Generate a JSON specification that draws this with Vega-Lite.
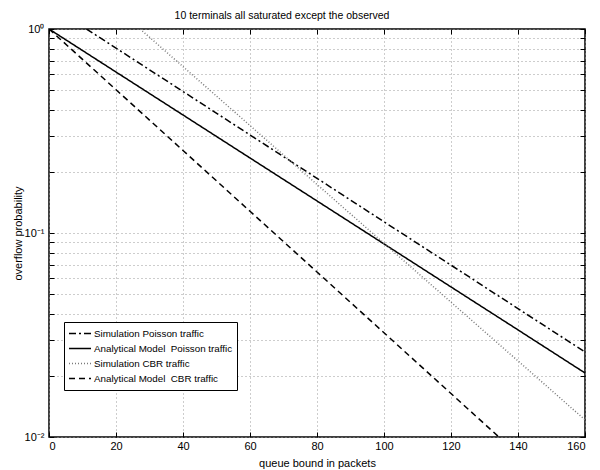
{
  "$schema": "https://vega.github.io/schema/vega-lite/v6.json",
  "width": 536,
  "height": 408,
  "autosize": {"type": "none"},
  "padding": {"left": 49, "top": 29, "right": 15, "bottom": 33},
  "background": "white",
  "title": {"text": "10 terminals all saturated except the observed", "font": "Liberation Sans", "fontSize": 10.5, "fontWeight": "normal", "color": "black", "anchor": "middle", "frame": "group", "dx": -35, "dy": 17, "baseline": "bottom", "offset": 9},
  "data": {"values": [
    {"series": "Simulation Poisson traffic", "x": 11.2, "y": 1.0},
    {"series": "Simulation Poisson traffic", "x": 20, "y": 0.806},
    {"series": "Simulation Poisson traffic", "x": 40, "y": 0.494},
    {"series": "Simulation Poisson traffic", "x": 60, "y": 0.3025},
    {"series": "Simulation Poisson traffic", "x": 80, "y": 0.1854},
    {"series": "Simulation Poisson traffic", "x": 100, "y": 0.1135},
    {"series": "Simulation Poisson traffic", "x": 120, "y": 0.0696},
    {"series": "Simulation Poisson traffic", "x": 140, "y": 0.0426},
    {"series": "Simulation Poisson traffic", "x": 160, "y": 0.0261},
    {"series": "Analytical Model\u00a0 Poisson traffic", "x": 0, "y": 1.0},
    {"series": "Analytical Model\u00a0 Poisson traffic", "x": 20, "y": 0.6154},
    {"series": "Analytical Model\u00a0 Poisson traffic", "x": 40, "y": 0.3789},
    {"series": "Analytical Model\u00a0 Poisson traffic", "x": 60, "y": 0.2332},
    {"series": "Analytical Model\u00a0 Poisson traffic", "x": 80, "y": 0.1436},
    {"series": "Analytical Model\u00a0 Poisson traffic", "x": 100, "y": 0.0884},
    {"series": "Analytical Model\u00a0 Poisson traffic", "x": 120, "y": 0.0544},
    {"series": "Analytical Model\u00a0 Poisson traffic", "x": 140, "y": 0.0335},
    {"series": "Analytical Model\u00a0 Poisson traffic", "x": 160, "y": 0.0206},
    {"series": "Simulation CBR traffic", "x": 27.2, "y": 1.0},
    {"series": "Simulation CBR traffic", "x": 40, "y": 0.654},
    {"series": "Simulation CBR traffic", "x": 60, "y": 0.3363},
    {"series": "Simulation CBR traffic", "x": 80, "y": 0.173},
    {"series": "Simulation CBR traffic", "x": 100, "y": 0.089},
    {"series": "Simulation CBR traffic", "x": 120, "y": 0.0458},
    {"series": "Simulation CBR traffic", "x": 140, "y": 0.0236},
    {"series": "Simulation CBR traffic", "x": 160, "y": 0.01213},
    {"series": "Analytical Model\u00a0 CBR traffic", "x": 0, "y": 1.0},
    {"series": "Analytical Model\u00a0 CBR traffic", "x": 20, "y": 0.504},
    {"series": "Analytical Model\u00a0 CBR traffic", "x": 40, "y": 0.2538},
    {"series": "Analytical Model\u00a0 CBR traffic", "x": 60, "y": 0.1278},
    {"series": "Analytical Model\u00a0 CBR traffic", "x": 80, "y": 0.0644},
    {"series": "Analytical Model\u00a0 CBR traffic", "x": 100, "y": 0.03243},
    {"series": "Analytical Model\u00a0 CBR traffic", "x": 120, "y": 0.01633},
    {"series": "Analytical Model\u00a0 CBR traffic", "x": 134.3, "y": 0.01}
  ]},
  "layer": [
    {
      "mark": {"type": "line", "clip": true, "strokeWidth": 1.5},
      "encoding": {
        "x": {"field": "x", "type": "quantitative", "scale": {"domain": [0, 160], "nice": false, "zero": false},
          "axis": {"orient": "bottom", "values": [0, 20, 40, 60, 80, 100, 120, 140, 160], "title": "queue bound in packets", "labelPadding": 8, "titleY": 29, "titleBaseline": "alphabetic", "titleX": 268}},
        "y": {"field": "y", "type": "quantitative", "scale": {"type": "log", "domain": [0.01, 1], "nice": false},
          "axis": {"orient": "left", "values": [0.01, 0.02, 0.03, 0.04, 0.05, 0.06, 0.07, 0.08, 0.09, 0.1, 0.2, 0.3, 0.4, 0.5, 0.6, 0.7, 0.8, 0.9, 1],
            "labelExpr": "datum.value == 1 ? '10⁰' : (datum.value == 0.1 ? '10⁻¹' : (datum.value == 0.01 ? '10⁻²' : ''))",
            "title": "overflow probability", "labelPadding": 10, "titleX": -31, "titleY": 204, "titleBaseline": "middle", "titleAngle": -90}},
        "color": {"field": "series", "type": "nominal",
          "scale": {"domain": ["Simulation Poisson traffic", "Analytical Model\u00a0 Poisson traffic", "Simulation CBR traffic", "Analytical Model\u00a0 CBR traffic"], "range": ["black", "black", "#7a7a7a", "black"]},
          "legend": {"title": null, "orient": "none", "legendX": 15, "legendY": 293, "symbolType": "stroke", "symbolSize": 484, "symbolStrokeWidth": 1.5, "clipHeight": 15, "rowPadding": 0, "labelFont": "Liberation Sans", "labelFontSize": 9.8, "labelColor": "black", "labelOffset": 2, "padding": 4, "strokeColor": "black", "fillColor": "white", "cornerRadius": 0}},
        "strokeDash": {"field": "series", "type": "nominal",
          "scale": {"domain": ["Simulation Poisson traffic", "Analytical Model\u00a0 Poisson traffic", "Simulation CBR traffic", "Analytical Model\u00a0 CBR traffic"], "range": [[7, 3, 2, 3], [1, 0], [1, 2], [6, 4]]},
          "legend": {"title": null, "orient": "none", "legendX": 15, "legendY": 293, "symbolType": "stroke", "symbolSize": 484, "symbolStrokeWidth": 1.5, "clipHeight": 15, "rowPadding": 0, "labelFont": "Liberation Sans", "labelFontSize": 9.8, "labelColor": "black", "labelOffset": 2, "padding": 4, "strokeColor": "black", "fillColor": "white", "cornerRadius": 0}}
      }
    },
    {
      "mark": {"type": "line", "opacity": 0},
      "encoding": {
        "x": {"field": "x", "type": "quantitative",
          "axis": {"orient": "top", "values": [0, 20, 40, 60, 80, 100, 120, 140, 160], "labels": false, "grid": false, "title": null}},
        "y": {"field": "y", "type": "quantitative",
          "axis": {"orient": "right", "values": [0.01, 0.02, 0.03, 0.04, 0.05, 0.06, 0.07, 0.08, 0.09, 0.1, 0.2, 0.3, 0.4, 0.5, 0.6, 0.7, 0.8, 0.9, 1], "labels": false, "grid": false, "title": null}},
        "detail": {"field": "series", "type": "nominal"}
      }
    }
  ],
  "resolve": {"axis": {"x": "independent", "y": "independent"}},
  "config": {
    "font": "Liberation Sans",
    "view": {"stroke": "black", "strokeWidth": 1.5},
    "axis": {"labelFont": "Liberation Sans", "labelFontSize": 11, "labelColor": "black", "titleFont": "Liberation Sans", "titleFontSize": 11, "titleFontWeight": "normal", "titleColor": "black", "gridColor": "#9a9a9a", "gridDash": [1, 3], "gridWidth": 1, "gridOpacity": 1, "domain": false, "tickColor": "black", "tickSize": -5, "tickWidth": 1}
  }
}
